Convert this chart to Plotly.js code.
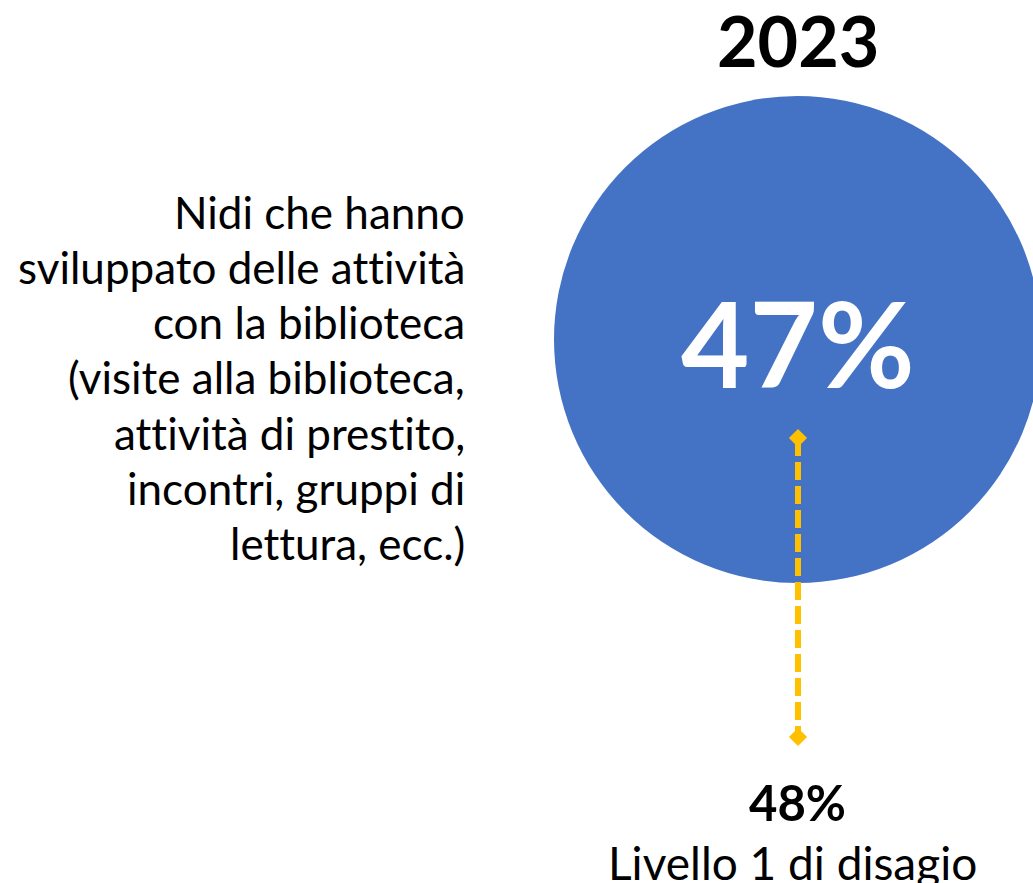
<!DOCTYPE html>
<html>
<head>
<meta charset="utf-8">
<script src="https://cdn.plot.ly/plotly-3.0.1.min.js"></script>
<style>
html,body{margin:0;padding:0;background:#fff;}
#chart{width:1033px;height:883px;}
text{font-variant-ligatures:none;font-feature-settings:"liga" 0,"clig" 0;}
</style>
</head>
<body>
<div id="chart"></div>
<script>
// ---- data ----
const year = ["2023"];
const shareValue = [47];          // % nidi con attività con la biblioteca
const benchmarkValue = [48];      // % Livello 1 di disagio
const benchmarkLabel = ["Livello 1 di disagio"];
const descriptionLines = [
  "Nidi che hanno",
  "sviluppato delle attività",
  "con la biblioteca",
  "(visite alla biblioteca,",
  "attività di prestito,",
  "incontri, gruppi di",
  "lettura, ecc.)"
];

// ---- layout geometry (pixel space) ----
const W = 1033, H = 883;
const cx = 797.5, cy = 339.5, r = 243.5;
const lineX = 798, lineTop = 438, lineBottom = 737;
const blue = "#4472C4", gold = "#FFC000";
const FONT = "Lato, 'Open Sans', sans-serif";

const traces = [{
  type: "scatter",
  mode: "lines+markers",
  x: [lineX, lineX],
  y: [lineTop, lineBottom],
  line: {color: gold, width: 6, dash: "18px,6px"},
  marker: {symbol: "diamond", size: 14, color: gold},
  hoverinfo: "skip",
  showlegend: false
}];

const annotations = [];
annotations.push({
  x: cx, y: 40, xref: "x", yref: "y", showarrow: false, borderpad: 0,
  text: "<b>" + year[0] + "</b>", xanchor: "center", yanchor: "middle",
  font: {family: FONT, size: 70, color: "#000"}
});
annotations.push({
  x: cx, y: 342.5, xref: "x", yref: "y", showarrow: false,
  text: "<b>" + shareValue[0] + "%</b>", xanchor: "center", yanchor: "middle",
  font: {family: FONT, size: 118, color: "#fff"}
});
annotations.push({
  x: cx, y: 802, xref: "x", yref: "y", showarrow: false,
  text: "<b>" + benchmarkValue[0] + "%</b>", xanchor: "center", yanchor: "middle",
  font: {family: FONT, size: 49, color: "#000"}
});
annotations.push({
  x: cx - 5, y: 862, xref: "x", yref: "y", showarrow: false, borderpad: 0,
  text: benchmarkLabel[0], xanchor: "center", yanchor: "middle",
  font: {family: FONT, size: 46, color: "#000"}
});
descriptionLines.forEach((t, i) => {
  annotations.push({
    x: 467, y: 211.5 + i * 55.3, xref: "x", yref: "y", showarrow: false,
    text: t, xanchor: "right", yanchor: "middle", align: "right",
    font: {family: FONT, size: 44, color: "#000"}
  });
});

const layout = {
  width: W, height: H,
  margin: {l: 0, r: 0, t: 0, b: 0, pad: 0},
  paper_bgcolor: "#fff", plot_bgcolor: "#fff",
  xaxis: {range: [0, W], visible: false, fixedrange: true},
  yaxis: {range: [H, 0], visible: false, fixedrange: true},
  shapes: [{
    type: "circle", xref: "x", yref: "y",
    x0: cx - r, x1: cx + r, y0: cy - r, y1: cy + r,
    fillcolor: blue, line: {width: 0}, layer: "below"
  }],
  annotations: annotations,
  showlegend: false
};

Plotly.newPlot("chart", traces, layout, {displayModeBar: false, staticPlot: true});
</script>
</body>
</html>
